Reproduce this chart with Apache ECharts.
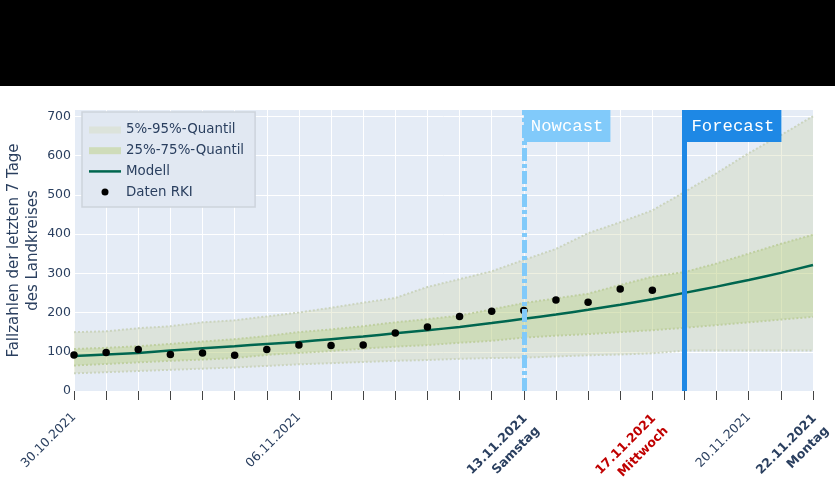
<!DOCTYPE html>
<html>
<head>
<meta charset="utf-8">
<style>
  html, body { margin: 0; padding: 0; background: #fff; }
  #chart { width: 835px; height: 490px; }
</style>
<script src="https://cdn.jsdelivr.net/npm/echarts@6/dist/echarts.min.js"></script>
</head>
<body>
<div id="chart"></div>
<script>
var days = ['30.10.2021','31.10.2021','01.11.2021','02.11.2021','03.11.2021','04.11.2021','05.11.2021',
  '06.11.2021','07.11.2021','08.11.2021','09.11.2021','10.11.2021','11.11.2021','12.11.2021','13.11.2021',
  '14.11.2021','15.11.2021','16.11.2021','17.11.2021','18.11.2021','19.11.2021','20.11.2021','21.11.2021','22.11.2021'];
var q05 = [45,48,51,54,57,60,64,68,71,74,77,79,82,84,85,88,91,93,96,103,103,103,103,103];
var q25 = [65,69,73,77,80,84,92,97,102,108,113,117,123,128,136,141,145,150,155,161,168,175,182,189];
var q75 = [107,110,114,120,126,132,140,150,157,165,175,183,192,208,224,236,248,270,291,303,325,350,375,398];
var q95 = [150,152,160,165,175,180,190,200,212,225,237,265,285,305,334,362,402,430,460,507,555,606,652,700];
var model = [89,93,97,103,109,114,120,125,132,139,147,155,163,173,184,195,207,220,234,250,266,283,301,321];
var rki = [92,98,106,93,97,91,106,117,116,117,148,163,190,203,205,232,226,260,257];
// leading {s} line pushes the two-line labels down, they sit lower than single-line ones
var tickLabels = {
  0: '{n|30.10.2021}',
  7: '{n|06.11.2021}',
  14: '{s| }\n{b|13.11.2021}\n{b|Samstag}',
  18: '{s| }\n{r|17.11.2021}\n{r|Mittwoch}',
  21: '{n|20.11.2021}',
  23: '{s| }\n{b|22.11.2021}\n{b|Montag}'
};
var nowcastDay = 14, forecastDay = 19;

var font = '"DejaVu Sans", Verdana, sans-serif';
var ink = '#2a3f5f';

function diff(a, b) {
  return a.map(function (v, i) { return v - b[i]; });
}

var chart = echarts.init(document.getElementById('chart'));

var option = {
  animation: false,
  backgroundColor: '#ffffff',
  textStyle: { fontFamily: font },
  graphic: [{ type: 'rect', shape: { x: 0, y: 0, width: 835, height: 86 }, style: { fill: '#000' } }],
  grid: {
    left: 74, right: 22, top: 110, bottom: 99, show: true, backgroundColor: '#E5ECF6', borderWidth: 0,
    outerBoundsMode: 'none'
  },
  legend: {
    orient: 'vertical', left: 82, top: 112, padding: [11, 11, 8, 7], itemGap: 6.7,
    itemWidth: 32, itemHeight: 7,
    backgroundColor: '#E1E8F2', borderColor: '#CDD3DC', borderWidth: 1.5,
    textStyle: { color: ink, fontSize: 13.4, lineHeight: 14, fontFamily: font },
    data: [
      { name: '5%-95%-Quantil', icon: 'rect', itemStyle: { color: '#DCE3DB' } },
      { name: '25%-75%-Quantil', icon: 'rect', itemStyle: { color: '#CFDCBA' } },
      { name: 'Modell', icon: 'path://M0 0H32V2.5H0Z', itemStyle: { color: '#00664F' } },
      { name: 'Daten RKI', icon: 'circle', itemStyle: { color: '#000' } }
    ]
  },
  xAxis: {
    type: 'category', data: days, boundaryGap: false, offset: 3,
    axisLine: { show: false },
    axisTick: { show: true, interval: 0, length: 9, lineStyle: { color: '#444', width: 1 } },
    splitLine: { show: true, interval: 0, lineStyle: { color: '#fff', width: 1 } },
    axisLabel: {
      interval: 0, rotate: 45, margin: 21, hideOverlap: false, lineHeight: 17, align: 'right',
      formatter: function (v, i) { return tickLabels[i] || ''; },
      rich: {
        n: { fontSize: 12.5, color: ink, fontFamily: font, lineHeight: 17 },
        s: { fontSize: 10, lineHeight: 22 },
        b: { fontSize: 12.5, color: ink, fontFamily: font, fontWeight: 'bold', lineHeight: 17.5 },
        r: { fontSize: 12.5, color: '#C00000', fontFamily: font, fontWeight: 'bold', lineHeight: 17.5 }
      }
    }
  },
  yAxis: {
    type: 'value', min: 0, max: 716, interval: 100,
    name: 'Fallzahlen der letzten 7 Tage\ndes Landkreises',
    nameLocation: 'middle', nameGap: 31, nameRotate: 90, nameMoveOverlap: false,
    nameTextStyle: { color: ink, fontSize: 15, lineHeight: 19, fontFamily: font },
    axisLine: { show: false }, axisTick: { show: false },
    axisLabel: { showMaxLabel: false, color: ink, fontSize: 12.5, margin: 3, padding: [3, 0, 0, 0] },
    splitLine: { show: true, showMaxLine: false, lineStyle: { color: '#fff', width: 1 } }
  },
  series: [
    {
      name: 'q05', type: 'line', stack: 'outer', data: q05, symbol: 'none', legendHoverLink: false,
      lineStyle: { color: '#CBD4BE', width: 2, type: 'dotted' }
    },
    {
      name: '5%-95%-Quantil', type: 'line', stack: 'outer', data: diff(q95, q05), symbol: 'none',
      lineStyle: { color: '#CBD4BE', width: 2, type: 'dotted' },
      areaStyle: { color: 'rgba(199,206,156,0.3)', opacity: 1 }
    },
    {
      name: 'q25', type: 'line', stack: 'inner', data: q25, symbol: 'none',
      lineStyle: { color: '#BFCFA0', width: 2, type: 'dotted' }
    },
    {
      name: '25%-75%-Quantil', type: 'line', stack: 'inner', data: diff(q75, q25), symbol: 'none',
      lineStyle: { color: '#BFCFA0', width: 2, type: 'dotted' },
      areaStyle: { color: 'rgba(177,204,109,0.3)', opacity: 1 }
    },
    {
      name: 'Modell', type: 'line', data: model, symbol: 'none', smooth: 0.2,
      lineStyle: { color: '#00664F', width: 2.5 }, itemStyle: { color: '#00664F' },
      markLine: {
        silent: true, symbol: 'none', label: { show: false }, animation: false,
        data: [
          { xAxis: nowcastDay, lineStyle: { color: '#81CAFA', width: 5, type: [13, 3, 4, 3] } },
          { xAxis: forecastDay, lineStyle: { color: '#1E88E5', width: 5, type: 'solid' } }
        ]
      },
      markPoint: {
        silent: true, symbol: 'rect', symbolSize: 0, animation: false,
        data: [
          { coord: [nowcastDay, 675], label: { formatter: 'Nowcast', backgroundColor: '#81CAFA' } },
          { coord: [forecastDay, 675], label: { formatter: 'Forecast', backgroundColor: '#1E88E5' } }
        ],
        label: {
          show: true, position: 'right', distance: 0, color: '#fff', fontFamily: '"Liberation Mono", monospace',
          fontSize: 17.3, lineHeight: 20, padding: [6, 7, 6, 7]
        }
      }
    },
    {
      name: 'Daten RKI', type: 'scatter', z: 4, data: rki, symbol: 'circle', symbolSize: 7.5,
      itemStyle: { color: '#000', opacity: 1 }
    }
  ]
};

chart.setOption(option);
</script>
</body>
</html>
